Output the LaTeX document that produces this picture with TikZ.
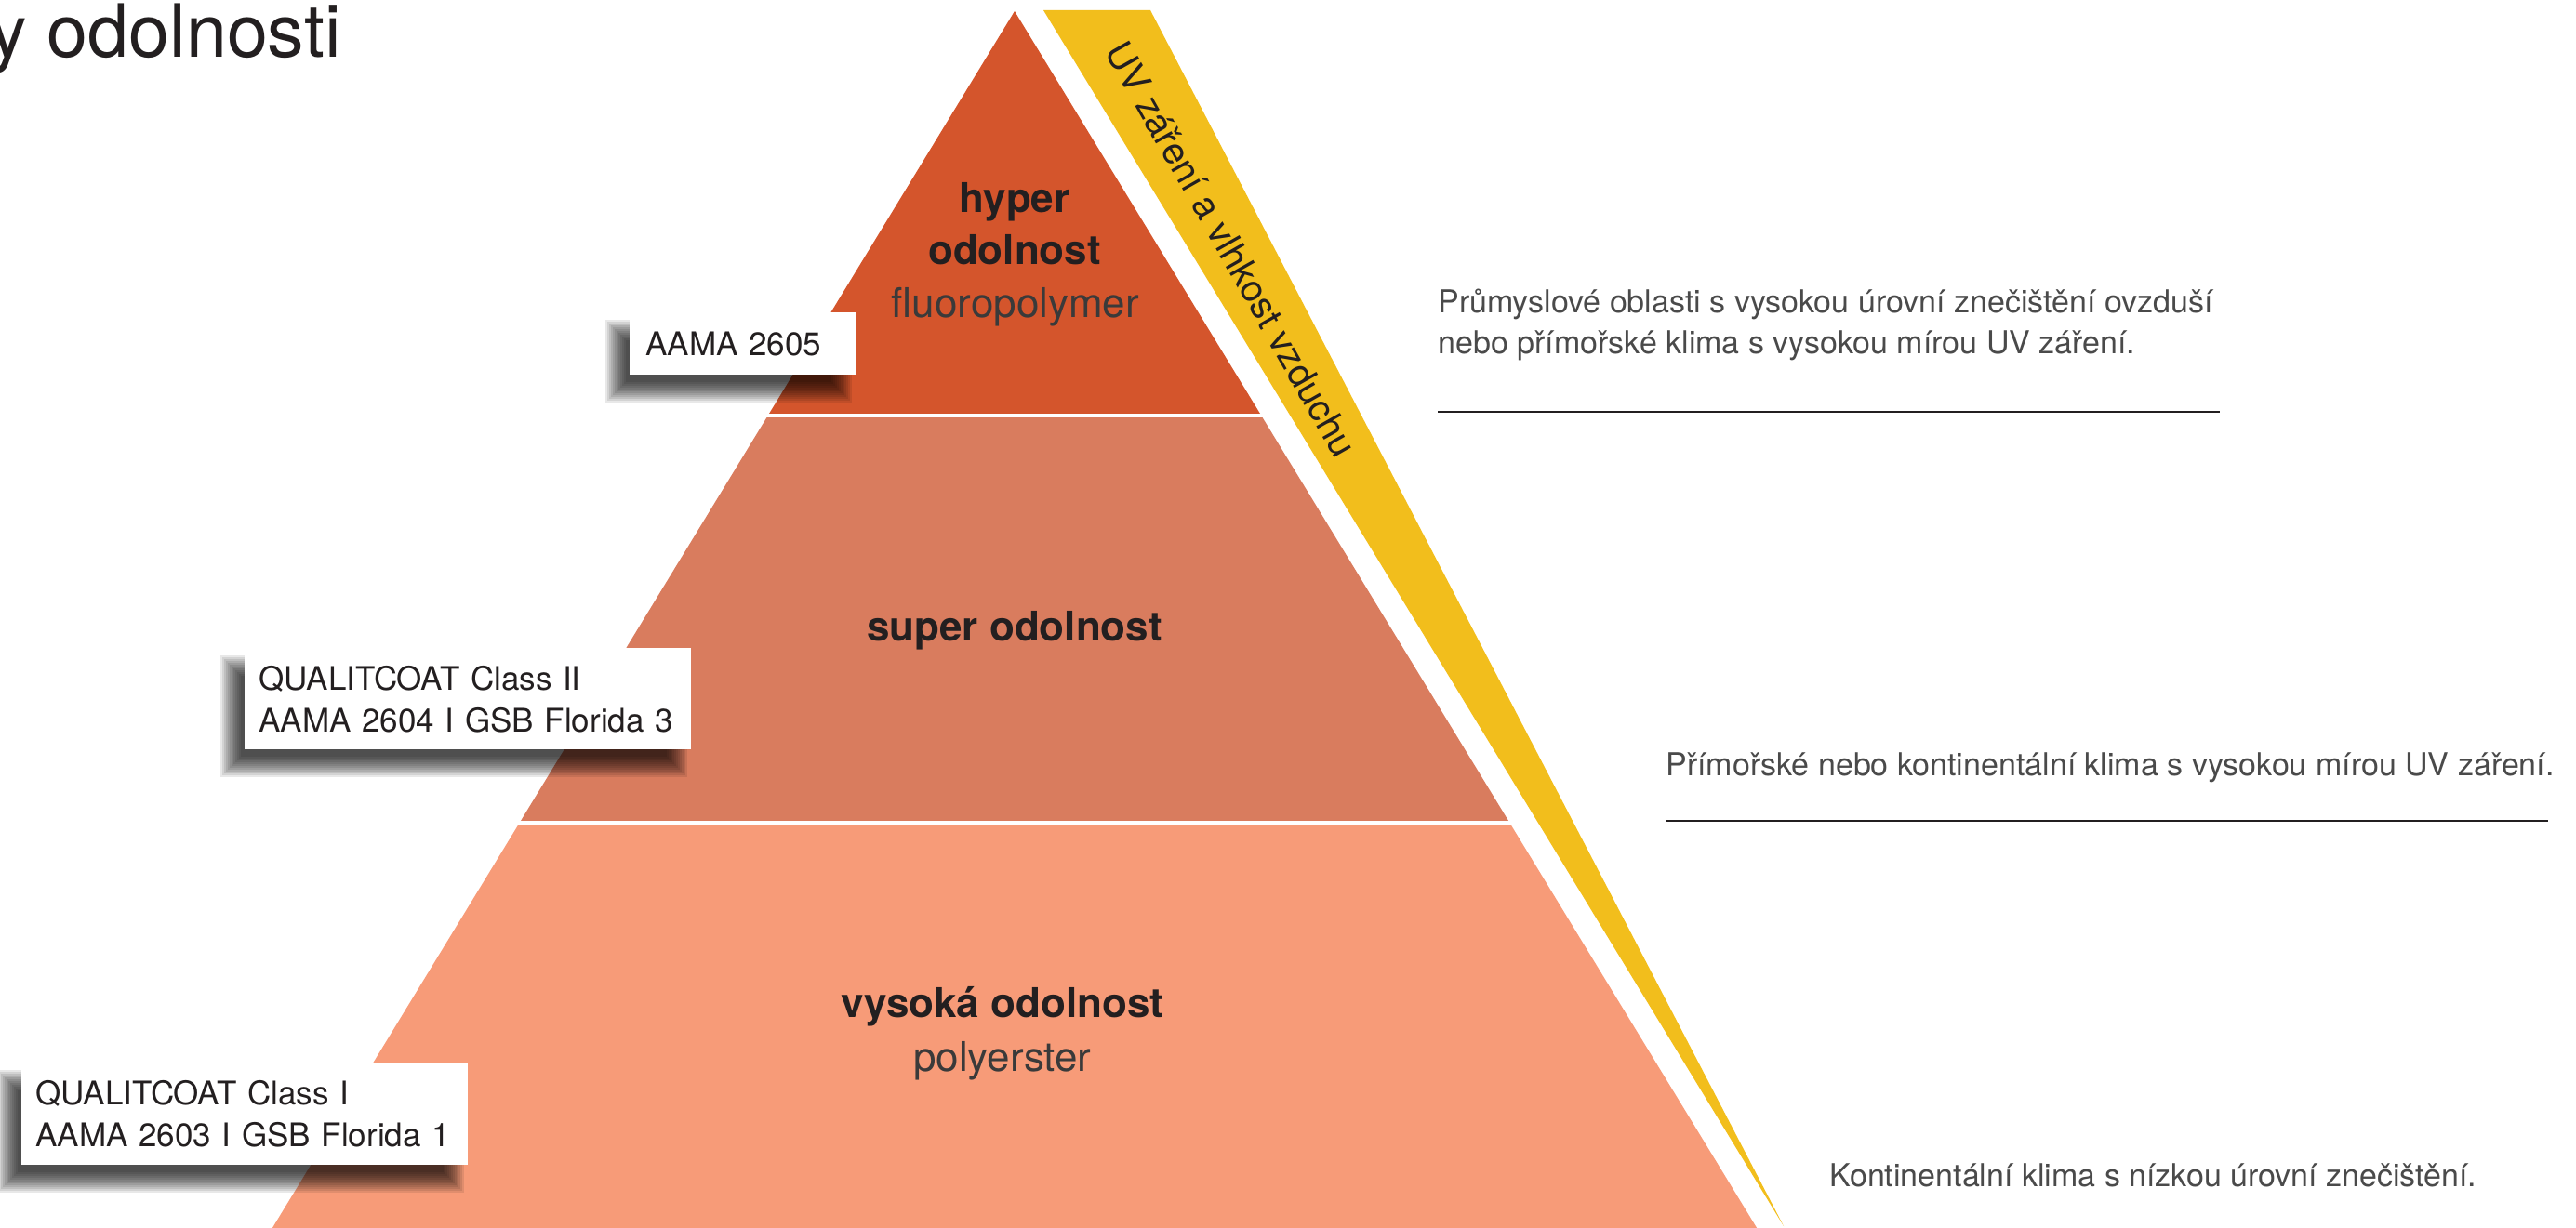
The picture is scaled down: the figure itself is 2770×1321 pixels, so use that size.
\documentclass[tikz,border=0pt]{standalone}
\usepackage{fontspec}
\setmainfont{TeX Gyre Heros}
\usetikzlibrary{calc}
\definecolor{tierA}{HTML}{D4552C}
\definecolor{tierB}{HTML}{D97C5E}
\definecolor{tierC}{HTML}{F79B78}
\definecolor{uvyellow}{HTML}{F2BE1C}
\definecolor{ink}{HTML}{231F20}
\definecolor{softink}{HTML}{3A3A3A}
\definecolor{descink}{HTML}{4A4A4A}
\begin{document}
\begin{tikzpicture}[x=0.5pt,y=-0.5pt,
  tierbold/.style={anchor=base, inner sep=0pt, text=ink, font=\fontsize{22}{26}\selectfont\bfseries},
  tierlight/.style={anchor=base, inner sep=0pt, text=softink, font=\fontsize{22}{26}\selectfont},
  lbl/.style={fill=white, anchor=north west, inner ysep=0pt, align=left, text=ink, font=\fontsize{17.5}{22.5}\selectfont},
  desc/.style={anchor=base west, inner sep=0pt, text=descink, font=\fontsize{17}{21}\selectfont},
  rulebar/.style={draw=ink, line width=1pt},
  shadowlayer/.style={fill=black, opacity=0.09}
]
\fill[white] (0,0) rectangle (2770,1321);
\useasboundingbox (0,0) rectangle (2770,1321);

% pyramid
\begin{scope}
  \clip (1091,12) -- (287.4,1330) -- (1894.6,1330) -- cycle;
  \fill[tierA] (0,0) rectangle (2770,445);
  \fill[tierB] (0,449) rectangle (2770,883);
  \fill[tierC] (0,888) rectangle (2770,1330);
\end{scope}

% UV band
\fill[uvyellow] (1122,11) -- (1237,11) -- (1918,1319) -- cycle;
\node[rotate=-60.5, text=ink, font=\fontsize{20}{24}\selectfont, inner sep=0pt] (uv) at (1324,268) {UV záření a vlhkost vzduchu};

% tier texts
\node[tierbold] (hyp1) at (1091,229) {hyper};
\node[tierbold] (hyp2) at (1091,285) {odolnost};
\node[tierlight] (hyp3) at (1092,342) {fluoropolymer};
\node[tierbold] (sup) at (1091,689) {super odolnost};
\node[tierbold] (vys1) at (1078,1094) {vysoká odolnost};
\node[tierlight] (vys2) at (1078,1152) {polyerster};

% label boxes corners
\coordinate (b1nw) at (677,336);  \coordinate (b1se) at (920,403);
\coordinate (b2nw) at (263,697);  \coordinate (b2se) at (743,806);
\coordinate (b3nw) at (23,1143);  \coordinate (b3se) at (503,1253);

% blurred shadows
\foreach \n in {b1,b2,b3}{
  \foreach \e in {-11,-9,...,11}{
    \fill[shadowlayer] ($(\n nw)+(-15-\e,19-\e)$) rectangle ($(\n se)+(-15+\e,19+\e)$);
  }
}

% label boxes
\node[lbl, inner xsep=8.5pt, minimum width=121.5pt, minimum height=33.5pt, text width=104.5pt] (b1) at (b1nw) {AAMA 2605};
\node[lbl, inner xsep=7.5pt, minimum width=240pt, minimum height=54.5pt, text width=225pt] (b2) at (b2nw) {QUALITCOAT Class II\\AAMA 2604 I GSB Florida 3};
\node[lbl, inner xsep=7.5pt, minimum width=240pt, minimum height=55pt, text width=225pt] (b3) at (b3nw) {QUALITCOAT Class I\\AAMA 2603 I GSB Florida 1};

% descriptions
\node[desc] (d1a) at (1546,336) {Průmyslové oblasti s vysokou úrovní znečištění ovzduší};
\node[desc] (d1b) at (1546,380) {nebo přímořské klima s vysokou mírou UV záření.};
\node[desc] (d2) at (1791,834) {Přímořské nebo kontinentální klima s vysokou mírou UV záření.};
\node[desc] (d3) at (1967,1276) {Kontinentální klima s nízkou úrovní znečištění.};

\coordinate (r1a) at (1546,443); \coordinate (r1b) at (2387,443);
\coordinate (r2a) at (1791,883); \coordinate (r2b) at (2740,883);
\draw[rulebar] (r1a) -- (r1b);
\draw[rulebar] (r2a) -- (r2b);

% title
\node[anchor=base east, inner sep=0pt, text=ink, font=\fontsize{39.5}{45}\selectfont] (title) at (367,62) {y odolnosti};
\end{tikzpicture}
\end{document}
